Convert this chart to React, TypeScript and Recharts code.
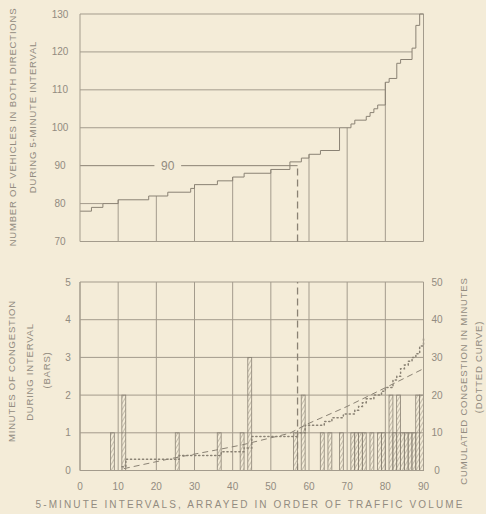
import React from 'react';
import {
  ComposedChart,
  Line,
  Bar,
  XAxis,
  YAxis,
  CartesianGrid,
  ReferenceLine,
  ReferenceDot,
} from 'recharts';

// upper chart: vehicles per 5-minute interval, intervals arrayed by volume
const stepStarts = [0, 3, 6, 10, 18, 23, 29, 30, 36, 40, 43, 50, 55, 58, 60, 63, 68, 71, 72, 75, 76, 77, 78, 80, 81, 83, 84, 87, 88, 89, 90];
const stepVehicles = [78, 79, 80, 81, 82, 83, 84, 85, 86, 87, 88, 89, 91, 92, 93, 94, 100, 101, 102, 103, 104, 105, 106, 112, 113, 117, 118, 121, 127, 130, 130];
const vehicleTicks = [70, 80, 90, 100, 110, 120, 130];
const gridLevels = [80, 100, 110, 120];
const dropIntervals = [10, 20, 30, 40, 50, 60, 70, 80];
const markInterval = 57;
const markVehicles = 90;

// lower chart: congestion minutes per interval (bars)
const barIntervals = [8, 11, 25, 36, 42, 44, 56, 58, 63, 65, 68, 71, 72, 73, 74, 76, 78, 79, 81, 82, 83, 84, 85, 86, 87, 88, 89];
const barMinutes = [1, 2, 1, 1, 1, 3, 1, 2, 1, 1, 1, 1, 1, 1, 1, 1, 1, 1, 2, 1, 2, 1, 1, 1, 1, 2, 2];

// dotted curve: cumulated congestion (right scale)
const cumIntervals = [11, 12, 26, 37, 43, 45, 57, 59, 64, 66, 69, 72, 73, 74, 75, 77, 79, 80, 82, 83, 84, 85, 86, 87, 88, 89, 90];
const cumMinutes = [1, 3, 4, 5, 6, 9, 10, 12, 13, 14, 15, 16, 17, 18, 19, 20, 21, 22, 24, 25, 27, 28, 29, 30, 31, 33, 35];

// dashed curve (right scale)
const trendIntervals = [11.5, 24, 35.5, 42.5, 55, 59.5, 70, 80.5, 90];
const trendMinutes = [0.5, 3.2, 5.4, 6.8, 9.9, 12.3, 17, 22.2, 27];

const minuteTicks = [0, 1, 2, 3, 4, 5];
const cumTicks = [0, 10, 20, 30, 40, 50];
const intervalTicks = [0, 10, 20, 30, 40, 50, 60, 70, 80, 90];

const BG = '#f4ecd8';
const GRID = '#a39b8c';
const INK = '#8a8274';
const TEXT = '#928b80';
const FONT = '"Liberation Sans", Arial, sans-serif';
const BAR_W = 3.9;

const stepRows = stepStarts.map((x, i) => ({ x, v: stepVehicles[i] }));
const levelAt = (x: number) => {
  let v = stepVehicles[0];
  stepStarts.forEach((s, i) => {
    if (s <= x) v = stepVehicles[i];
  });
  return v;
};
const reachAt = (level: number) => stepStarts[stepVehicles.findIndex((v) => v >= level)];

const rows = new Map<number, any>();
const rowAt = (x: number) => {
  if (!rows.has(x)) rows.set(x, { x });
  return rows.get(x);
};
barIntervals.forEach((n, i) => (rowAt(n + 0.5).minutes = barMinutes[i]));
cumIntervals.forEach((x, i) => (rowAt(x).cum = cumMinutes[i]));
trendIntervals.forEach((x, i) => (rowAt(x).trend = trendMinutes[i]));
const bottomRows = [...rows.values()].sort((a, b) => a.x - b.x);

const tickAt = (cx: number) => (props: any) => (
  <text x={cx} y={props.y} dy={3.5} textAnchor="middle" fill={TEXT} fontSize={10} fontFamily={FONT}>
    {props.payload.value}
  </text>
);

const HatchedBar = (props: any) => {
  const { x, y, width, height } = props;
  if (!(height > 0)) return null;
  const cx = x + width / 2;
  return (
    <rect x={cx - BAR_W / 2} y={y} width={BAR_W} height={height} fill="url(#hatch)" stroke={INK} strokeWidth={0.8} />
  );
};

const Title = ({ x, y, text, rotate = 0, size = 9.5, spacing = 0.8 }: any) => (
  <div
    style={{
      position: 'absolute',
      left: x,
      top: y,
      transform: `translate(-50%, -50%) rotate(${rotate}deg)`,
      whiteSpace: 'nowrap',
      fontSize: size,
      letterSpacing: spacing,
      lineHeight: 1,
      color: TEXT,
    }}
  >
    {text}
  </div>
);

export default function App() {
  return (
    <div style={{ position: 'absolute', left: 0, top: 0, width: 486, height: 514, background: BG, fontFamily: FONT, overflow: 'hidden' }}>
      <div style={{ position: 'absolute', left: 0, top: 0 }}>
        <ComposedChart width={486} height={250} data={stepRows} margin={{ top: 14, right: 62.5, bottom: 8.5, left: 0 }}>
          <XAxis dataKey="x" type="number" domain={[0, 90]} hide />
          <YAxis type="number" domain={[70, 130]} ticks={vehicleTicks} interval={0} width={80} axisLine={{ stroke: GRID }} tickLine={false} tick={tickAt(60)} />
          <ReferenceLine y={130} stroke={GRID} />
          <ReferenceLine y={70} stroke={GRID} />
          <ReferenceLine x={90} stroke={GRID} />
          {gridLevels.map((lv) => (
            <ReferenceLine key={lv} segment={[{ x: 0, y: lv }, { x: reachAt(lv), y: lv }]} stroke={GRID} />
          ))}
          {dropIntervals.map((d) => (
            <ReferenceLine key={d} segment={[{ x: d, y: 70 }, { x: d, y: levelAt(d) }]} stroke={GRID} />
          ))}
          <ReferenceLine segment={[{ x: 0, y: markVehicles }, { x: 19.5, y: markVehicles }]} stroke={INK} />
          <ReferenceLine segment={[{ x: 26.5, y: markVehicles }, { x: markInterval, y: markVehicles }]} stroke={INK} />
          <ReferenceLine segment={[{ x: markInterval, y: 70 }, { x: markInterval, y: markVehicles }]} stroke={INK} strokeWidth={1.3} strokeDasharray="7 4" />
          <ReferenceDot x={23} y={markVehicles} r={0} fill="none" stroke="none" label={{ value: '90', position: 'center', fill: TEXT, fontSize: 12, fontFamily: FONT }} />
          <Line type="stepAfter" dataKey="v" stroke={INK} strokeWidth={1} dot={false} isAnimationActive={false} />
        </ComposedChart>
      </div>

      <div style={{ position: 'absolute', left: 0, top: 260 }}>
        <ComposedChart width={486} height={254} data={bottomRows} margin={{ top: 22, right: 0, bottom: 0, left: 0 }}>
          <defs>
            <pattern id="hatch" patternUnits="userSpaceOnUse" width="3" height="3" patternTransform="rotate(30)">
              <line x1="0" y1="0" x2="0" y2="3" stroke={INK} strokeWidth="0.9" />
            </pattern>
          </defs>
          <CartesianGrid yAxisId="min" stroke={GRID} />
          <XAxis
            dataKey="x"
            type="number"
            domain={[0, 90]}
            ticks={intervalTicks}
            interval={0}
            height={43.5}
            axisLine={{ stroke: GRID }}
            tickLine={false}
            tick={{ fill: TEXT, fontSize: 10, fontFamily: FONT }}
            tickMargin={6}
          />
          <YAxis yAxisId="min" type="number" domain={[0, 5]} ticks={minuteTicks} interval={0} width={80} axisLine={{ stroke: GRID }} tickLine={false} tick={tickAt(68)} />
          <YAxis yAxisId="cum" orientation="right" type="number" domain={[0, 50]} ticks={cumTicks} interval={0} width={62.5} axisLine={{ stroke: GRID }} tickLine={false} tick={tickAt(437)} />
          <Bar yAxisId="min" dataKey="minutes" barSize={2} shape={<HatchedBar />} isAnimationActive={false} />
          <ReferenceLine yAxisId="min" x={markInterval} stroke={INK} strokeWidth={1.3} strokeDasharray="7 4" />
          <Line yAxisId="cum" type="linear" dataKey="trend" stroke={INK} strokeWidth={1} strokeDasharray="6 4" dot={false} connectNulls isAnimationActive={false} />
          <Line yAxisId="cum" type="stepAfter" dataKey="cum" stroke={INK} strokeWidth={1.5} strokeDasharray="1.2 2.8" strokeLinecap="round" dot={false} connectNulls isAnimationActive={false} />
        </ComposedChart>
      </div>

      <Title x={13} y={127} rotate={-90} text="NUMBER OF VEHICLES IN BOTH DIRECTIONS" />
      <Title x={33} y={117} rotate={-90} text="DURING 5-MINUTE INTERVAL" />
      <Title x={12} y={371} rotate={-90} text="MINUTES OF CONGESTION" />
      <Title x={30} y={372} rotate={-90} text="DURING INTERVAL" />
      <Title x={47} y={370} rotate={-90} text="(BARS)" />
      <Title x={464} y={381} rotate={-90} text="CUMULATED CONGESTION IN MINUTES" />
      <Title x={479} y={367} rotate={-90} text="(DOTTED CURVE)" />
      <Title x={250} y={505} text="5-MINUTE INTERVALS, ARRAYED IN ORDER OF TRAFFIC VOLUME" size={10} spacing={2.1} />
    </div>
  );
}
